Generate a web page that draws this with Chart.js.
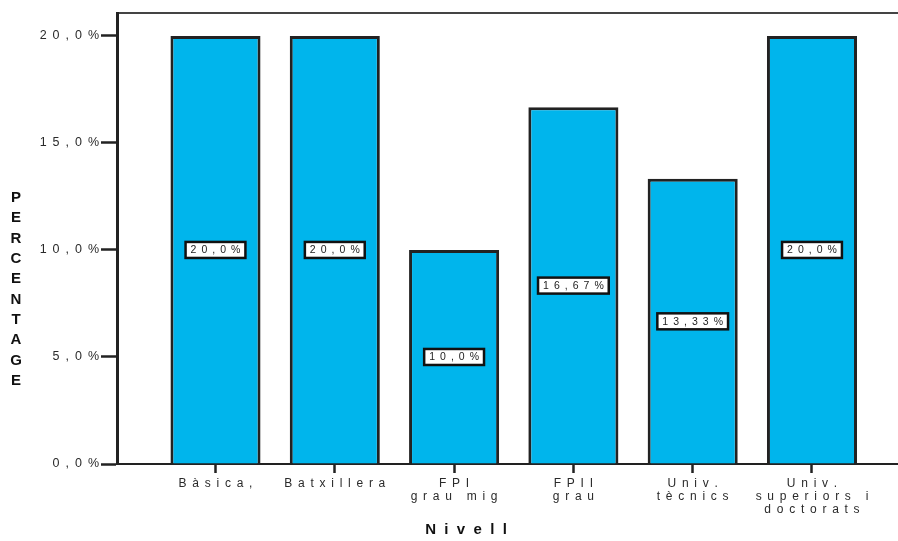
<!DOCTYPE html>
<html>
<head>
<meta charset="utf-8">
<script src="https://cdn.jsdelivr.net/npm/chart.js@4/dist/chart.umd.min.js"></script>
<style>
  html, body { margin: 0; padding: 0; background: #ffffff; }
  #wrap { width: 898px; height: 541px; position: relative; }
</style>
</head>
<body>
<div id="wrap"><canvas id="chart"></canvas></div>
<script>
// Education level categories (x axis), one line per array entry
const CATEGORIES = [
  ['Bàsica,'],
  ['Batxillera'],
  ['FPI', 'grau mig'],
  ['FPII', 'grau'],
  ['Univ.', 'tècnics'],
  ['Univ.', 'superiors i', 'doctorats']
];
// Share of respondents per level, in percent
const PERCENTAGES = [20, 20, 10, 16.67, 13.33, 20];
// Y axis tick values
const Y_TICKS = [0, 5, 10, 15, 20];
const Y_TITLE = 'PERCENTAGE';
const X_TITLE = 'Nivell';

const FONT = "'Liberation Sans', Arial, Helvetica, sans-serif";
const BAR_COLOR = '#00b5ec';
const INK = '#222222';
const GAP = ' \u2009';

// Letter-spaced rendering of a string (spaces inserted between glyphs)
function spaced(str, gap) {
  return Array.from(str).join(gap);
}
// "16.67" -> "16,67%", "20" -> "20,0%"
function pct(v) {
  const s = Number.isInteger(v) ? v.toFixed(1) : v.toFixed(2);
  return s.replace('.', ',') + '%';
}

// Boxed value labels at half bar height, plus the stacked y title and x title
const annotate = {
  id: 'annotate',
  afterDatasetsDraw(chart) {
    const ctx = chart.ctx;
    const meta = chart.getDatasetMeta(0);
    const yScale = chart.scales.y;
    ctx.save();
    ctx.font = '10.5px ' + FONT;
    ctx.textAlign = 'center';
    ctx.textBaseline = 'middle';
    meta.data.forEach((bar, i) => {
      const v = PERCENTAGES[i];
      const text = spaced(pct(v), GAP);
      const cx = bar.x;
      const cy = yScale.getPixelForValue(v / 2);
      const w = ctx.measureText(text).width + 10;
      const h = 16;
      ctx.fillStyle = '#ffffff';
      ctx.fillRect(cx - w / 2, cy - h / 2, w, h);
      ctx.lineWidth = 2.5;
      ctx.strokeStyle = '#111111';
      ctx.strokeRect(cx - w / 2, cy - h / 2, w, h);
      ctx.fillStyle = INK;
      ctx.fillText(text, cx, cy + 0.5);
    });
    ctx.restore();
  },
  afterDraw(chart) {
    const ctx = chart.ctx;
    ctx.save();
    ctx.fillStyle = '#111111';
    ctx.textAlign = 'center';
    ctx.textBaseline = 'middle';
    // vertical axis title, one letter per row
    ctx.font = 'bold 15px ' + FONT;
    Array.from(Y_TITLE).forEach((ch, i) => {
      ctx.fillText(ch, 16, 198 + i * 20.3);
    });
    // horizontal axis title
    ctx.font = 'bold 15px ' + FONT;
    ctx.fillText(spaced(X_TITLE, '  '), 466, 530);
    ctx.restore();
  }
};

const ctx = document.getElementById('chart').getContext('2d');
new Chart(ctx, {
  type: 'bar',
  data: {
    datasets: [{
      data: PERCENTAGES.map((v, i) => ({ x: i, y: v })),
      backgroundColor: BAR_COLOR,
      borderColor: INK,
      borderWidth: { top: 3, left: 3, right: 3, bottom: 0 },
      borderSkipped: false,
      barPercentage: 0.755,
      categoryPercentage: 1
    }]
  },
  options: {
    responsive: true,
    maintainAspectRatio: false,
    animation: false,
    layout: { padding: { top: 13, left: 0, right: 0, bottom: 0 } },
    plugins: {
      legend: { display: false },
      tooltip: { enabled: false },
      title: { display: false }
    },
    scales: {
      x: {
        type: 'linear',
        position: 'bottom',
        min: -0.8256,
        max: 5.721,
        offset: false,
        afterBuildTicks(scale) {
          scale.ticks = CATEGORIES.map((_, i) => ({ value: i }));
        },
        afterFit(scale) { scale.height = 77; },
        grid: {
          offset: false,
          drawOnChartArea: false,
          drawTicks: true,
          tickLength: 9,
          tickWidth: 2.5,
          tickColor: INK
        },
        border: { display: true, color: INK, width: 2 },
        ticks: {
          autoSkip: false,
          maxRotation: 0,
          minRotation: 0,
          padding: 4,
          color: '#2a2a2a',
          font: { family: FONT, size: 12, lineHeight: 1.1 },
          callback: (value) => {
            const lines = CATEGORIES[value];
            return lines ? lines.map(l => spaced(l, GAP)) : '';
          }
        }
      },
      xTop: {
        type: 'linear',
        position: 'top',
        min: -0.8256,
        max: 5.721,
        afterFit(scale) { scale.height = 0; },
        grid: { display: false, drawTicks: false },
        border: { display: true, color: '#444444', width: 2 },
        ticks: { display: false }
      },
      y: {
        min: 0,
        max: 21.07,
        afterBuildTicks(scale) {
          scale.ticks = Y_TICKS.map(v => ({ value: v }));
        },
        afterFit(scale) { scale.width = 117; },
        grid: {
          drawOnChartArea: false,
          drawTicks: true,
          tickLength: 16,
          tickWidth: 2.5,
          tickColor: INK
        },
        border: { display: true, color: INK, width: 3 },
        ticks: {
          padding: 2,
          color: '#2a2a2a',
          font: { family: FONT, size: 12.5 },
          callback: (value) => spaced(pct(value), GAP)
        }
      }
    }
  },
  plugins: [annotate]
});
</script>
</body>
</html>
